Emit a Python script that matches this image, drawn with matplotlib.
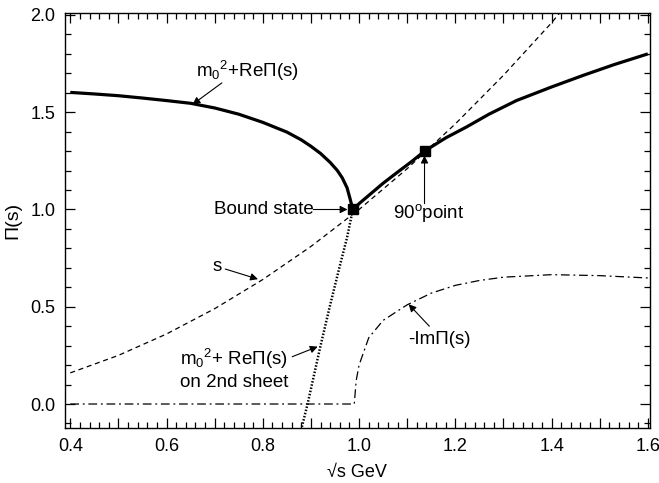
import matplotlib.pyplot as plt
from matplotlib.ticker import FuncFormatter, MultipleLocator

plt.rcParams["font.family"] = ["Liberation Sans", "DejaVu Sans"]
plt.rcParams["mathtext.fontset"] = "custom"
plt.rcParams["mathtext.rm"] = "Liberation Sans"
plt.rcParams["mathtext.default"] = "regular"

# m0^2 + Re Pi(s), physical sheet
re_left_x = [0.40, 0.45, 0.50, 0.55, 0.60, 0.65, 0.70, 0.75, 0.80, 0.85, 0.88, 0.90,
             0.92, 0.94, 0.955, 0.965, 0.975, 0.981, 0.985, 0.987]
re_left_y = [1.602, 1.594, 1.585, 1.573, 1.560, 1.546, 1.522, 1.490, 1.448, 1.398, 1.358, 1.325,
             1.288, 1.242, 1.200, 1.163, 1.112, 1.058, 1.020, 1.000]
re_right_x = [0.987, 1.00, 1.02, 1.05, 1.08, 1.11, 1.136, 1.18, 1.223, 1.27, 1.327, 1.40,
              1.465, 1.53, 1.60]
re_right_y = [1.000, 1.030, 1.072, 1.135, 1.192, 1.248, 1.300, 1.368, 1.424, 1.490, 1.560, 1.630,
              1.689, 1.745, 1.800]

# m0^2 + Re Pi(s) on 2nd sheet
sheet2_x = [0.878, 0.893, 0.92, 0.94, 0.96, 0.975, 0.987]
sheet2_y = [-0.15, 0.00, 0.30, 0.51, 0.71, 0.855, 1.000]

# s
s_x = [0.40, 0.50, 0.60, 0.70, 0.80, 0.90, 1.00, 1.10, 1.20, 1.30, 1.40, 1.42]
s_y = [0.16, 0.25, 0.36, 0.49, 0.64, 0.81, 1.00, 1.21, 1.44, 1.69, 1.96, 2.02]

# -Im Pi(s)
im_x = [0.40, 0.990, 0.994, 1.00, 1.02, 1.05, 1.10, 1.15, 1.20, 1.25, 1.30, 1.40, 1.50, 1.60]
im_y = [0.00, 0.000, 0.120, 0.20, 0.34, 0.43, 0.51, 0.57, 0.61, 0.635, 0.652, 0.665, 0.660, 0.648]

bound_state = (0.987, 1.00)
point_90 = (1.136, 1.30)

fig = plt.figure(figsize=(6.59, 4.83), dpi=100)
ax = fig.add_axes([0.0986, 0.114, 0.8874, 0.859])

ax.plot(re_left_x, re_left_y, color="black", lw=2.3, solid_capstyle="butt")
ax.plot(re_right_x, re_right_y, color="black", lw=2.3, solid_capstyle="butt")
ax.plot(sheet2_x, sheet2_y, color="black", lw=1.8, linestyle=(0, (0.6, 0.7)))
ax.plot(s_x, s_y, color="black", lw=0.9, linestyle=(0, (4, 3)))
ax.plot(im_x, im_y, color="black", lw=0.9, linestyle=(0, (7, 3, 1.5, 3)))
ax.plot(*bound_state, marker="s", color="black", ms=7)
ax.plot(*point_90, marker="s", color="black", ms=7)

arrow = dict(arrowstyle="-|>", color="black", lw=0.8, mutation_scale=11, shrinkA=0, shrinkB=0)
fs = 13.5

ax.text(0.662, 1.713, "m$_0$$^2$+Re\u03a0(s)", fontsize=fs, ha="left", va="center")
ax.annotate("", xy=(0.654, 1.54), xytext=(0.715, 1.651), arrowprops=arrow)

ax.text(0.905, 1.00, "Bound state", fontsize=fs, ha="right", va="center")
ax.annotate("", xy=(0.976, 1.00), xytext=(0.905, 1.00), arrowprops=arrow)

ax.text(1.145, 0.98, "90$^o$point", fontsize=fs, ha="center", va="center")
ax.annotate("", xy=(1.136, 1.277), xytext=(1.136, 1.03), arrowprops=arrow)

ax.text(0.706, 0.705, "s", fontsize=fs, ha="center", va="center")
ax.annotate("", xy=(0.79, 0.642), xytext=(0.722, 0.694), arrowprops=arrow)

ax.text(0.627, 0.18, "m$_0$$^2$+ Re\u03a0(s)\non 2nd sheet", fontsize=fs,
        ha="left", va="center", linespacing=1.25)
ax.annotate("", xy=(0.914, 0.295), xytext=(0.861, 0.243), arrowprops=arrow)

ax.text(1.101, 0.332, "-Im\u03a0(s)", fontsize=fs, ha="left", va="center")
ax.annotate("", xy=(1.103, 0.513), xytext=(1.146, 0.40), arrowprops=arrow)

ax.set_xlim(0.389, 1.604)
ax.set_ylim(-0.123, 2.01)

ax.xaxis.set_major_locator(MultipleLocator(0.1))
ax.xaxis.set_minor_locator(MultipleLocator(0.02))
ax.xaxis.set_major_formatter(FuncFormatter(
    lambda v, _: f"{v:.1f}" if round(v * 10) % 2 == 0 else ""))
ax.yaxis.set_major_locator(MultipleLocator(0.5))
ax.yaxis.set_minor_locator(MultipleLocator(0.1))
ax.yaxis.set_major_formatter(FuncFormatter(lambda v, _: f"{v:.1f}"))

ax.tick_params(which="both", direction="in", top=True, right=True, labelsize=13, width=0.9)
ax.tick_params(which="major", length=7, pad=7)
ax.tick_params(which="minor", length=4)
for sp in ax.spines.values():
    sp.set_linewidth(1.0)

ax.set_xlabel("\u221as GeV", fontsize=13, labelpad=7)
ax.set_ylabel("\u03a0(s)", fontsize=14, labelpad=6)

fig.savefig("out.png", dpi=100)
